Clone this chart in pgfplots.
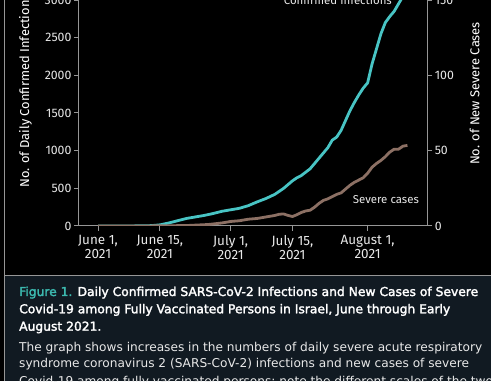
\documentclass[border=0pt]{standalone}
\usepackage{fontspec}
\setmainfont{Fira Sans}
\newfontfamily\capfont{DejaVu Sans}
\newfontfamily\captitle{DejaVu Sans}[FakeBold=2.2]
\usepackage{pgfplots}
\usepackage{pgfplotstable}
\pgfplotsset{compat=1.18}
\definecolor{tealline}{RGB}{72,196,196}
\definecolor{brownline}{RGB}{140,112,100}
\definecolor{axgray}{RGB}{150,150,150}
\definecolor{txt}{RGB}{232,232,232}
\definecolor{capbg}{RGB}{17,26,34}
\definecolor{figteal}{RGB}{60,185,175}

\newlength\Lw
\newcommand\fitsize[4]{% #1 macro, #2 font cmd, #3 target width (pt), #4 sample text
  \settowidth\Lw{#2\fontsize{10}{12}\selectfont #4}%
  \pgfmathsetmacro#1{10*#3/\Lw}}

\pgfplotstableread{
day val
0 0
5 0
10 2
12 5
14 15
16 40
18 70
20 100
22 120
24 140
26 165
28 195
30 215
32 235
34 270
36 320
38 365
40 420
42 500
44 600
45 640
46 670
48 760
50 900
52 1040
53 1140
54 1180
55 1270
56 1400
57 1530
58 1640
59 1740
60 1830
61 1900
62 2150
63 2350
64 2550
65 2700
66 2780
67 2850
68 2950
69 3050
70 3150
}\infections

\pgfplotstableread{
day val
0 0
10 0
20 0.3
25 1
28 2
30 3
32 3.5
34 4.5
36 5
38 6
40 7
41 7.8
42 8
43 7
44 6.3
45 7.5
46 9
47 10
48 10.5
49 12.5
50 15
51 17
52 18
53 19.5
54 21
55 22
56 24.5
57 27
58 29
59 30.5
60 32
61 35
62 39
63 41.5
64 43.5
65 46
66 49
67 51
68 51
69 53
70 53.5
}\severe

\begin{document}
\fitsize{\titlefs}{\captitle}{459}{Figure 1. Daily Confirmed SARS-CoV-2 Infections and New Cases of Severe}%
\fitsize{\bodyfs}{\capfont}{463}{The graph shows increases in the numbers of daily severe acute respiratory}%
\fitsize{\ylabfs}{\rmfamily}{143}{No. of New Severe Cases}%
\fitsize{\xtickfs}{\rmfamily}{54}{August 1,}%
\fitsize{\ytickfs}{\rmfamily}{26}{2500}%
\fitsize{\annfs}{\rmfamily}{66}{Severe cases}%
\begin{tikzpicture}[x=1pt,y=1pt]
\useasboundingbox (0,0) rectangle (491,381);
\begin{scope}
\clip (0,0) rectangle (491,381);
\fill[black] (0,0) rectangle (491,381);
\fill[capbg] (4.5,0) rectangle (491,105.5);
\draw[axgray, line width=1.2pt] (4.5,105.5) -- (491,105.5);
\draw[axgray, line width=1.2pt] (4.5,0) -- (4.5,381);

\pgfplotsset{
  myaxis/.style={
    at={(79pt,155pt)}, anchor=south west, scale only axis,
    width=348.3pt, height=226pt,
    xmin=-4.3, xmax=74.5,
    axis line style={axgray, line width=1pt, -},
    tick style={axgray, line width=1pt},
    major tick length=5pt, tick align=outside,
    ticklabel style={text=txt, font=\fontsize{\ytickfs}{13}\selectfont},
    /pgf/number format/assume math mode=true,
    /pgf/number format/1000 sep={},
  }
}

\begin{axis}[myaxis,
  ymin=0, ymax=3000,
  axis x line*=bottom, axis y line*=left,
  xtick={0,14,30,44,61},
  xticklabels={{June 1,\\2021},{June 15,\\2021},{July 1,\\2021},{July 15,\\2021},{August 1,\\2021}},
  xticklabel style={align=center, font=\fontsize{\xtickfs}{13.5}\selectfont, yshift=-1pt},
  ytick={0,500,1000,1500,2000,2500,3000},
  yticklabel style={xshift=1pt},
]
\addplot[tealline, line width=2.8pt, line join=round] table[x=day,y=val] {\infections};
\end{axis}

\begin{axis}[myaxis,
  ymin=0, ymax=150,
  axis y line*=right, axis x line=none,
  ytick={0,50,100,150},
  yticklabel style={xshift=-1pt},
]
\addplot[brownline, line width=2.8pt, line join=round] table[x=day,y=val] {\severe};
\end{axis}

\node[rotate=90, anchor=west, text=white, font=\fontsize{\ylabfs}{13}\selectfont] at (25.5,190) {No. of Daily Confirmed Infections};
\node[rotate=90, text=white, font=\fontsize{\ylabfs}{13}\selectfont] at (474.5,287.5) {No. of New Severe Cases};
\node[anchor=base east, inner sep=0, text=txt, font=\fontsize{\annfs}{13}\selectfont] at (392,376) {Confirmed infections};
\node[anchor=base west, inner sep=0, text=txt, font=\fontsize{\annfs}{13}\selectfont] at (352.7,177.7) {Severe cases};

\begin{scope}[every node/.style={anchor=base west, inner sep=0, text=white}]
\node[font=\captitle\fontsize{\titlefs}{13}\selectfont] at (19,85) {{\color{figteal}Figure 1.} Daily Confirmed SARS-CoV-2 Infections and New Cases of Severe};
\node[font=\captitle\fontsize{\titlefs}{13}\selectfont] at (19,67.7) {Covid-19 among Fully Vaccinated Persons in Israel, June through Early};
\node[font=\captitle\fontsize{\titlefs}{13}\selectfont] at (19,50.3) {August 2021.};
\node[font=\capfont\fontsize{\bodyfs}{13}\selectfont, text=txt] at (19,29.3) {The graph shows increases in the numbers of daily severe acute respiratory};
\node[font=\capfont\fontsize{\bodyfs}{13}\selectfont, text=txt] at (19,13.7) {syndrome coronavirus 2 (SARS-CoV-2) infections and new cases of severe};
\node[font=\capfont\fontsize{\bodyfs}{13}\selectfont, text=txt] at (19,-5) {Covid-19 among fully vaccinated persons; note the different scales of the two axes.};
\end{scope}
\end{scope}
\end{tikzpicture}
\end{document}
